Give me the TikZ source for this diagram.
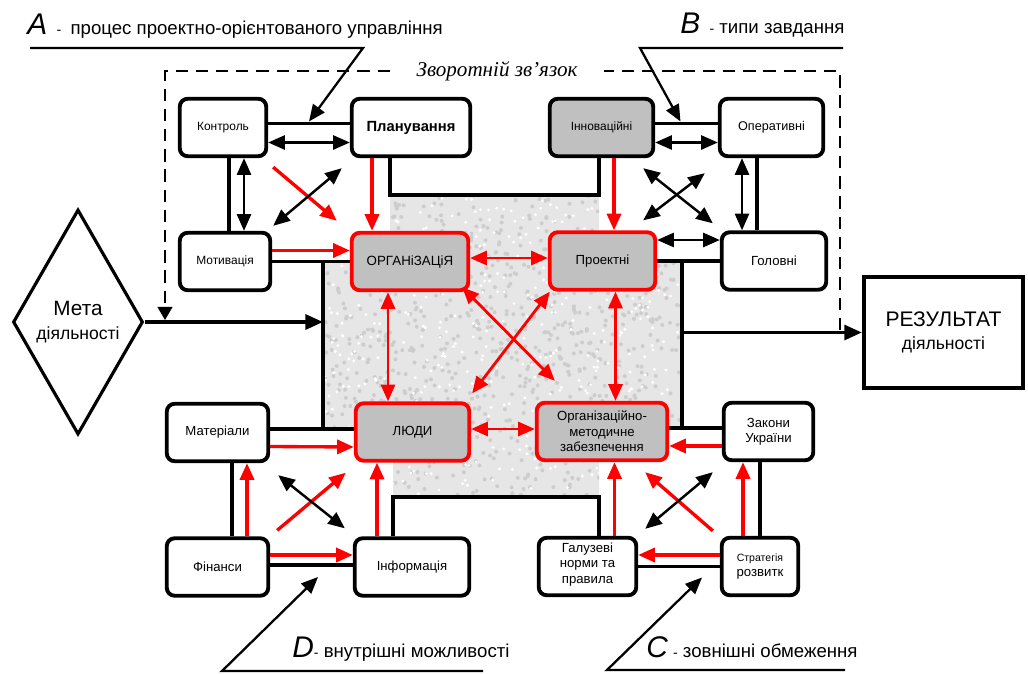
\documentclass[tikz,border=0pt]{standalone}
\usepackage{fontspec}
\setmainfont{Liberation Sans}
\newfontfamily\serifit{Liberation Serif}
\usepackage{tikz}
\usetikzlibrary{shapes.geometric,arrows.meta,calc,positioning,backgrounds}
\definecolor{boxGrey}{RGB}{192,192,192}
\definecolor{coreGrey}{RGB}{230,230,230}
\definecolor{speckGrey}{RGB}{205,205,205}
\definecolor{flowRed}{RGB}{255,0,0}

\tikzset{
  plainbox/.style={rounded corners=4.5pt, draw=black, line width=2.2pt, fill=white,
    minimum height=1.15cm, align=center, inner sep=1pt, font=\fontsize{7.5}{8.8}\selectfont},
  corebox/.style={plainbox, fill=boxGrey, draw=flowRed},
  greybox/.style={plainbox, fill=boxGrey},
  tie/.style={line width=1.9pt},
  biarrow/.style={line width=1.4pt, {Triangle[length=9.5pt,width=8pt]}-{Triangle[length=9.5pt,width=8pt]}},
  redarrow/.style={line width=1.9pt, color=flowRed, -{Triangle[length=9.5pt,width=8pt]}},
  redbiarrow/.style={line width=1.6pt, color=flowRed, {Triangle[length=9.5pt,width=8pt]}-{Triangle[length=9.5pt,width=8pt]}},
  pointer/.style={line width=1.3pt, -{Triangle[length=9.5pt,width=8pt]}},
  feedback/.style={line width=1pt, dash pattern=on 7pt off 4.5pt},
  tag/.style={anchor=base west, inner sep=0pt, font=\fontsize{10.6}{12}\selectfont}
}

\begin{document}
\begin{tikzpicture}[x=0.02cm, y=-0.02cm]
    \useasboundingbox (0,0) rectangle (1028,673);

    % corners of the core block
    \coordinate (gA) at (390,195);
    \coordinate (gB) at (599,195);
    \coordinate (gC) at (599,262);
    \coordinate (gD) at (682,262);
    \coordinate (gE) at (682,428);
    \coordinate (gF) at (599,428);
    \coordinate (gG) at (599,497);
    \coordinate (gH) at (393,497);
    \coordinate (gI) at (393,429);
    \coordinate (gJ) at (323,429);
    \coordinate (gK) at (323,262);
    \coordinate (gL) at (390,262);

    % A - management process
    \node[plainbox, minimum width=1.73cm, font=\fontsize{6.8}{8}\selectfont] (kontrol) at (223,127.5) {Контроль};
    \node[plainbox, minimum width=2.37cm, font=\fontsize{8.4}{10}\selectfont\bfseries] (plan) at (411,127.5) {Планування};
    \node[plainbox, minimum width=1.81cm, font=\fontsize{6.8}{8}\selectfont] (motiv) at (225,261.5) {Мотивація};
    \node[corebox, minimum width=2.33cm, font=\fontsize{7.6}{9}\selectfont] (org) at (410,261.5) {ОРГАНіЗАЦіЯ};

    % B - task types
    \node[greybox, minimum width=2.07cm, font=\fontsize{6.8}{8}\selectfont] (innov) at (601.5,127.5) {Інноваційні};
    \node[plainbox, minimum width=2.07cm, font=\fontsize{7.2}{8.5}\selectfont] (oper) at (771.5,127.5) {Оперативні};
    \node[corebox, minimum width=2.11cm] (proekt) at (602.5,261) {Проектні};
    \node[plainbox, minimum width=2.09cm] (holov) at (774,261) {Головні};

    % D - internal resources
    \node[plainbox, minimum width=2.03cm] (mater) at (217.5,432.5) {Матеріали};
    \node[corebox, minimum width=2.27cm] (liudy) at (412.5,432) {ЛЮДИ};
    \node[plainbox, minimum width=2.03cm] (finans) at (217.5,567) {Фінанси};
    \node[plainbox, minimum width=2.29cm] (inform) at (412,567) {Інформація};

    % C - external limits
    \node[corebox, minimum width=2.61cm] (orgmet) at (602,431.5) {Організаційно-\\методичне\\забезпечення};
    \node[plainbox, minimum width=1.79cm] (zakony) at (768.5,431.5) {Закони\\України};
    \node[plainbox, minimum width=1.95cm, text depth=4pt] (haluz) at (587.5,566.5) {Галузеві\\норми та\\правила};
    \node[plainbox, minimum width=1.53cm] (strat) at (760,566.5) {{\fontsize{6}{8}\selectfont Стратегія}\\розвитк};

    % goal and result
    \node[diamond, draw, line width=1.8pt, minimum width=2.6cm, minimum height=4.5cm, inner sep=0pt,
          align=center, font=\fontsize{10}{13.5}\selectfont] (goal) at (78,322)
          {{\fontsize{11.8}{13.5}\selectfont Мета}\\діяльності};
    \node[draw, line width=2.2pt, minimum width=3.19cm, minimum height=2.23cm, align=center,
          font=\fontsize{10}{13}\selectfont] (result) at (943.5,332.5)
          {{\fontsize{12}{13}\selectfont РЕЗУЛЬТАТ}\\діяльності};

    \begin{scope}[on background layer]
        \clip (gA) -- (gB) -- (gC) -- (gD) -- (gE) -- (gF) -- (gG) -- (gH)
            -- (gI) -- (gJ) -- (gK) -- (gL) -- cycle;
        \fill[coreGrey] (323,195) rectangle (683,497);
        \pgfmathsetseed{11}
        \foreach \i in {1,...,900} {
            \fill[speckGrey] ({323+360*rnd},{195+302*rnd}) circle (2);
        }
        \foreach \i in {1,...,500} {
            \fill[white] ({323+360*rnd},{195+302*rnd}) circle (1.6);
        }
    \end{scope}

    % frame of the core block
    \draw[tie] (plan.south -| gA) -- (gA) -- (gB) -- (innov.south -| gB);
    \draw[tie] (inform.north -| gH) -- (gH) -- (gG) -- (haluz.north -| gG);
    \draw[tie] (motiv.east) -- (org.west);
    \draw[tie] (gK) -- (gJ);
    \draw[tie] (mater.east |- gJ) -- (liudy.west |- gJ);
    \draw[tie] (proekt.east) -- (holov.west);
    \draw[tie] (gD) -- (gE);
    \draw[tie] (orgmet.east |- gE) -- (zakony.west |- gE);

    % links of group A
    \draw[tie] ($(kontrol.east)+(0,-4)$) -- ($(plan.west)+(0,-4)$);
    \draw[biarrow] ($(kontrol.east)+(0,15)$) -- ($(plan.west)+(0,15)$);
    \draw[tie] ($(kontrol.south)+(6,0)$) -- ($(motiv.north)+(4,0)$);
    \draw[biarrow] ($(kontrol.south)+(21,0)$) -- ($(motiv.north)+(19,0)$);
    \draw[redarrow] ($(motiv.east)+(0,-11)$) -- ($(org.west)+(0,-11)$);
    \draw[redarrow] ($(plan.south)+(-39,0)$) -- ($(org.north)+(-38,0)$);
    \draw[redarrow] ($(kontrol.south east)+(5,9)$) -- ($(org.north west)+(-13,-10)$);
    \draw[biarrow] ($(motiv.north east)+(1,-5)$) -- ($(plan.south west)+(-8,10)$);

    % links of group B
    \draw[tie] ($(innov.east)+(0,-4)$) -- ($(oper.west)+(0,-4)$);
    \draw[biarrow] ($(innov.east)+(0,15)$) -- ($(oper.west)+(0,15)$);
    \draw[tie] ($(oper.south)+(-14.5,0)$) -- ($(holov.north)+(-17,0)$);
    \draw[biarrow] ($(oper.south)+(-29.5,0)$) -- ($(holov.north)+(-32,0)$);
    \draw[redarrow] ($(innov.south)+(12.5,0)$) -- ($(proekt.north)+(11.5,0)$);
    \draw[biarrow] ($(proekt.east)+(0,-21)$) -- ($(holov.west)+(0,-21)$);
    \draw[biarrow] ($(innov.south east)+(-12,10)$) -- ($(holov.north west)+(-7,-7)$);
    \draw[biarrow] ($(oper.south west)+(-13,15)$) -- ($(proekt.north east)+(-14,-10)$);

    % links inside the core
    \draw[redbiarrow] ($(org.east)+(0,-3.5)$) -- ($(proekt.west)+(0,-3)$);
    \draw[redbiarrow] ($(org.south)+(-22,0)$) -- ($(liudy.north)+(-24.5,0)$);
    \draw[redbiarrow] ($(proekt.south)+(13,0)$) -- ($(orgmet.north)+(13.5,0)$);
    \draw[redbiarrow] ($(liudy.east)+(0,-3)$) -- ($(orgmet.west)+(0,-2.5)$);
    \draw[redbiarrow] ($(org.south east)+(-8,-5)$) -- ($(orgmet.north west)+(20,-20)$);
    \draw[redbiarrow] ($(proekt.south west)+(2,0)$) -- ($(liudy.north east)+(1,-8)$);

    % links of group D
    \draw[redarrow] ($(mater.east)+(0,14)$) -- ($(liudy.west)+(0,15)$);
    \draw[tie] ($(mater.south)+(14.5,0)$) -- ($(finans.north)+(14.5,0)$);
    \draw[redarrow] ($(finans.north)+(29.5,0)$) -- ($(mater.south)+(29.5,0)$);
    \draw[redarrow] ($(finans.east)+(0,-12)$) -- ($(inform.west)+(0,-12)$);
    \draw[tie] ($(finans.east)+(0,-2)$) -- ($(inform.west)+(0,-2)$);
    \draw[redarrow] ($(inform.north)+(-35,0)$) -- ($(liudy.south)+(-35.5,0)$);
    \draw[redarrow] ($(finans.north east)+(7,-6)$) -- ($(liudy.south west)+(-8,10)$);
    \draw[biarrow] ($(mater.south east)+(8,12)$) -- ($(inform.north west)+(-8,-8)$);

    % links of group C
    \draw[redarrow] ($(zakony.west)+(0,14.5)$) -- ($(orgmet.east)+(0,14.5)$);
    \draw[tie] ($(zakony.south)+(-8.5,0)$) -- (strat.north);
    \draw[redarrow] ($(strat.north)+(-17,0)$) -- ($(zakony.south)+(-25.5,0)$);
    \draw[redarrow] ($(strat.west)+(0,-11.5)$) -- ($(haluz.east)+(0,-11.5)$);
    \draw[tie] (haluz.east) -- (strat.west);
    \draw[redarrow] ($(haluz.north)+(27,0)$) -- ($(orgmet.south)+(12.5,0)$);
    \draw[redarrow] ($(strat.north west)+(-7,-5)$) -- ($(orgmet.south east)+(-24,10)$);
    \draw[biarrow] ($(haluz.north east)+(7,-7)$) -- ($(zakony.south west)+(-9,10)$);

    % main flow and feedback
    \draw[tie, -{Triangle[length=10pt,width=8.5pt]}] (goal.east) -- (goal.east -| gK);
    \draw[tie, -{Triangle[length=10pt,width=8.5pt]}] (result.west -| gD) -- (result.west);
    \coordinate (fbStart) at (840,330);
    \coordinate (fbEnd) at (165,320);
    \node[inner xsep=15pt, inner ysep=0pt, font=\serifit\itshape\fontsize{12}{14}\selectfont] (fbtxt) at (497,71) {Зворотній зв’язок};
    \draw[feedback] (fbStart) |- (fbtxt.east);
    \draw[feedback, -{Triangle[length=7.5pt,width=8.5pt]}] (fbtxt.west) -| (fbEnd);

    % labels A, B, C, D
    \node[tag] (labA) at (27,34) {{\fontsize{17}{17}\selectfont\itshape A}\enspace{\fontsize{8}{8}\selectfont -}\enspace процес проектно-орієнтованого управління};
    \node[tag] (labB) at (680,33) {{\fontsize{17}{17}\selectfont\itshape B}\enspace{\fontsize{8}{8}\selectfont -} типи завдання};
    \node[tag] (labD) at (292,657) {{\fontsize{17}{17}\selectfont\itshape D}{\fontsize{8}{8}\selectfont -} внутрішні можливості};
    \node[tag] (labC) at (646,657) {{\fontsize{17}{17}\selectfont\itshape C} {\fontsize{8}{8}\selectfont -} зовнішні обмеження};
    \coordinate (aStart) at (30,48);
    \coordinate (aKnee) at (363,48);
    \coordinate (bStart) at (843,48);
    \coordinate (bKnee) at (640,48);
    \coordinate (cStart) at (845,670);
    \coordinate (cKnee) at (607,670);
    \coordinate (dStart) at (483,671);
    \coordinate (dKnee) at (222,671);
    \draw[pointer] (aStart) -- (aKnee) -- ($(kontrol.east)!0.5!(plan.west)+(0,-6)$);
    \draw[pointer] (bStart) -- (bKnee) -- ($(innov.east)!0.5!(oper.west)+(-6,-6)$);
    \draw[pointer] (cStart) -- (cKnee) -- ($(haluz.east)!0.5!(strat.west)+(23,11)$);
    \draw[pointer] (dStart) -- (dKnee) -- ($(finans.east)!0.5!(inform.west)+(6.5,10)$);
\end{tikzpicture}
\end{document}
